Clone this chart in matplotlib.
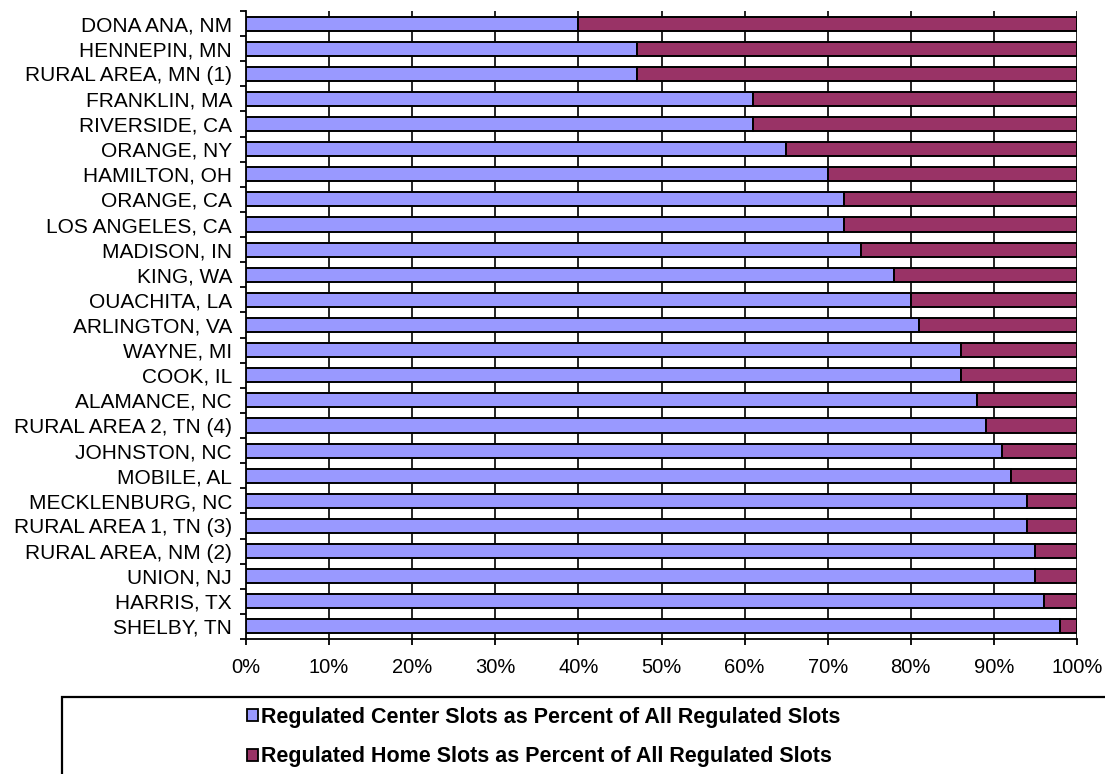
import matplotlib
matplotlib.use("Agg")
import matplotlib.pyplot as plt
import numpy as np
from matplotlib.patches import Patch, Rectangle

categories = [
    "DONA ANA, NM", "HENNEPIN, MN", "RURAL AREA, MN (1)", "FRANKLIN, MA",
    "RIVERSIDE, CA", "ORANGE, NY", "HAMILTON, OH", "ORANGE, CA",
    "LOS ANGELES, CA", "MADISON, IN", "KING, WA", "OUACHITA, LA",
    "ARLINGTON, VA", "WAYNE, MI", "COOK, IL", "ALAMANCE, NC",
    "RURAL AREA 2, TN (4)", "JOHNSTON, NC", "MOBILE, AL", "MECKLENBURG, NC",
    "RURAL AREA 1, TN (3)", "RURAL AREA, NM (2)", "UNION, NJ", "HARRIS, TX",
    "SHELBY, TN",
]
center_pct = [40, 47, 47, 61, 61, 65, 70, 72, 72, 74, 78, 80, 81, 86, 86, 88,
              89, 91, 92, 94, 94, 95, 95, 96, 98]
home_pct = [100 - v for v in center_pct]
series_labels = ["Regulated Center Slots as Percent of All Regulated Slots",
                 "Regulated Home Slots as Percent of All Regulated Slots"]
xtick_vals = list(range(0, 101, 10))
xtick_labels = [f"{v}%" for v in xtick_vals]

plt.rcParams['font.family'] = ['Liberation Sans', 'DejaVu Sans']

W, H = 1105, 774
fig = plt.figure(figsize=(W / 100, H / 100), dpi=100)
ax = fig.add_axes([246 / W, 1 - 639 / H, (1077 - 246) / W, (639 - 11) / H])

n = len(categories)
y = np.arange(n)
c1, c2 = "#9999FF", "#993366"
ax.barh(y, center_pct, height=0.56, color=c1, edgecolor="black", linewidth=1.4, zorder=3)
ax.barh(y, home_pct, left=center_pct, height=0.56, color=c2, edgecolor="black", linewidth=1.4, zorder=3)

ax.set_xlim(0, 100)
ax.set_ylim(n - 0.5, -0.5)
ax.set_xticks(xtick_vals)
ax.set_xticklabels(xtick_labels, fontsize=14.5)
ax.set_yticks(y)
ax.set_yticklabels(categories, fontsize=15)
ax.tick_params(axis='y', which='major', length=0, pad=10)
ax.set_yticks(np.arange(-0.5, n, 1), minor=True)
ax.tick_params(axis='y', which='minor', length=4.5, width=1.3, color='black')
ax.tick_params(axis='x', which='major', length=4.5, width=1.3, pad=9)

for v in xtick_vals[1:]:
    ax.axvline(v, color="black", linewidth=1.2, zorder=1)

for s in ['top', 'right']:
    ax.spines[s].set_visible(False)
for s in ['left', 'bottom']:
    ax.spines[s].set_linewidth(1.3)
    ax.spines[s].set_color('black')

# legend frame (extends past the figure's right and bottom edges)
frame = Rectangle((62 / W, -0.05), 1.0, (1 - 697 / H) + 0.05, transform=fig.transFigure,
                  facecolor='white', edgecolor='black', linewidth=1.6, zorder=0)
fig.add_artist(frame)

handles = [Patch(facecolor=c1, edgecolor='black', linewidth=1.3),
           Patch(facecolor=c2, edgecolor='black', linewidth=1.3)]
leg = fig.legend(handles, series_labels, loc='upper left',
                 bbox_to_anchor=(247 / W, 1 - 707 / H),
                 frameon=False,
                 prop={'family': ['Liberation Sans', 'DejaVu Sans'], 'weight': 'bold', 'size': 15.5},
                 handlelength=0.5, handleheight=0.5, handletextpad=0.15, labelspacing=0.85,
                 borderaxespad=0, borderpad=0)

fig.savefig("out.png", dpi=100)
